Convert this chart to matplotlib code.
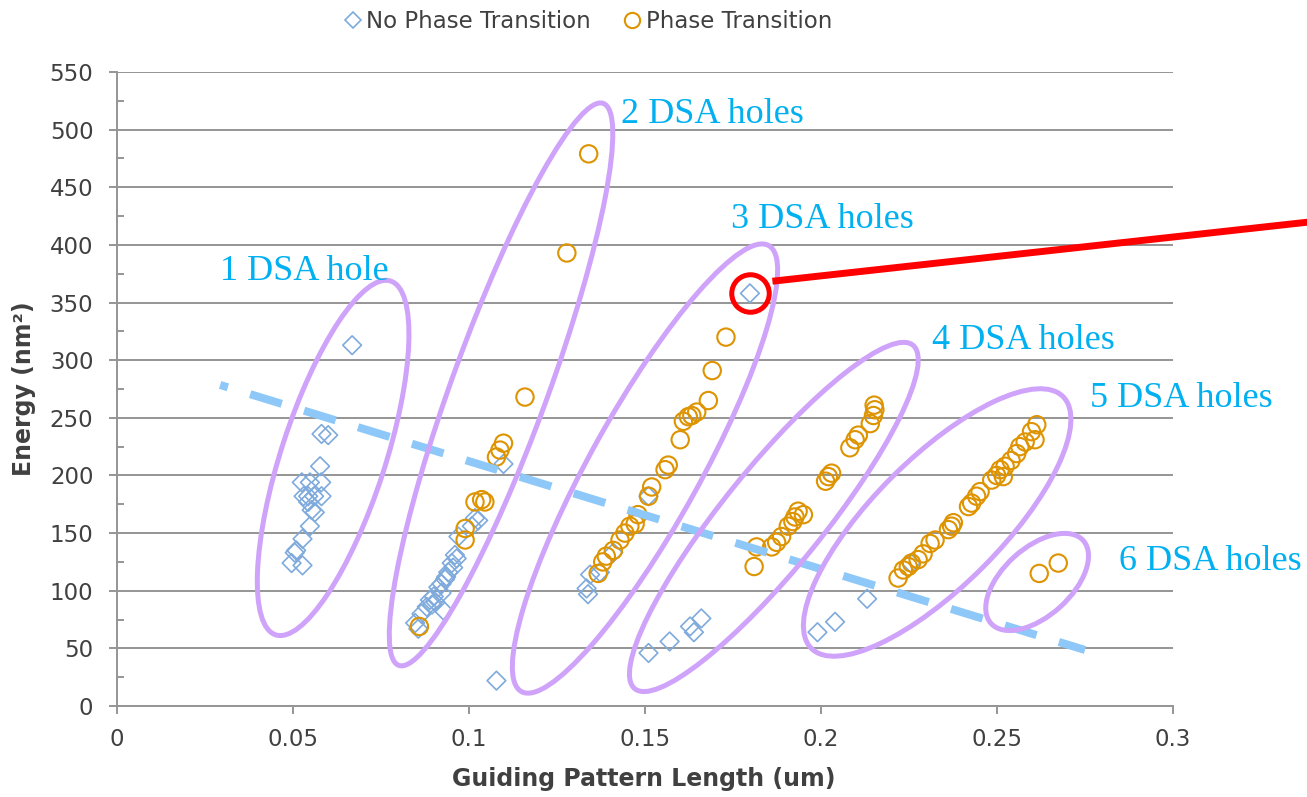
import numpy as np
import matplotlib
matplotlib.use("Agg")
import matplotlib.pyplot as plt
from matplotlib.patches import Ellipse
from matplotlib.transforms import ScaledTranslation, IdentityTransform
from matplotlib.lines import Line2D

# ---------------- data ----------------
# No phase transition (diamonds)
no_pt_x = [0.0668, 0.0581, 0.0600, 0.0577, 0.0525, 0.0548, 0.0580, 0.0530, 0.0543,
           0.0560, 0.0581, 0.0543, 0.0553, 0.0562, 0.0548, 0.0527, 0.0509, 0.0505,
           0.0496, 0.0527,
           0.1078, 0.0847, 0.0856, 0.0865, 0.0880, 0.0889, 0.0927, 0.0913, 0.0922,
           0.0922, 0.0900, 0.0932, 0.0941, 0.0951, 0.0960, 0.0965, 0.0970, 0.1008,
           0.1017, 0.1026, 0.1098, 0.0905, 0.0935, 0.0955, 0.0895,
           0.1334, 0.1338, 0.1344, 0.1372, 0.1410, 0.1510, 0.1798,
           0.1510, 0.1570, 0.1628, 0.1639, 0.1660,
           0.1990, 0.2040, 0.2131, 0.2255]
no_pt_y = [313, 236, 235, 208, 194, 194, 194, 182, 182,
           182, 182, 177, 170, 168, 156, 145, 135, 133,
           124, 122,
           22, 72, 67, 80, 86, 92, 83, 103, 106,
           98, 95, 110, 116, 124, 131, 128, 147, 156,
           163, 161, 210, 90, 112, 120, 88,
           102, 97, 114, 116, 133, 182, 358,
           46, 56, 69, 64, 76,
           64, 73, 93, 124]

# Phase transition (circles)
pt_x = [0.0859, 0.0989, 0.0989, 0.1017, 0.1036, 0.1045, 0.1078, 0.1088, 0.1098,
        0.1159, 0.1278, 0.1340,
        0.1367, 0.1380, 0.1390, 0.1410, 0.1429, 0.1443, 0.1457, 0.1472, 0.1480,
        0.1510, 0.1519, 0.1557, 0.1566, 0.1600, 0.1609, 0.1623, 0.1633, 0.1647,
        0.1680, 0.1691, 0.1730,
        0.1810, 0.1817, 0.1860, 0.1874, 0.1888, 0.1907, 0.1920, 0.1926, 0.1950,
        0.1935, 0.2013, 0.2021, 0.2030, 0.2082, 0.2097, 0.2106, 0.2140, 0.2149,
        0.2153, 0.2151,
        0.2219, 0.2234, 0.2248, 0.2257, 0.2276, 0.2290, 0.2310, 0.2324, 0.2362,
        0.2371, 0.2376, 0.2419, 0.2428, 0.2442, 0.2452, 0.2485, 0.2499, 0.2518,
        0.2509, 0.2523, 0.2540, 0.2556, 0.2565, 0.2580, 0.2608, 0.2598, 0.2613,
        0.2620, 0.2674]
pt_y = [69, 144, 154, 177, 179, 177, 216, 222, 228,
        268, 393, 479,
        115, 125, 130, 135, 144, 150, 156, 158, 166,
        182, 190, 205, 209, 231, 247, 251, 252, 255,
        265, 291, 320,
        121, 138, 138, 142, 147, 156, 160, 164, 166,
        169, 195, 199, 202, 224, 231, 235, 245, 252,
        257, 261,
        111, 118, 121, 124, 127, 132, 141, 144, 153,
        156, 159, 173, 176, 182, 186, 196, 200, 199,
        205, 208, 213, 219, 225, 229, 231, 238, 244,
        115, 124]

series_labels = ["No Phase Transition", "Phase Transition"]

x_ticks = [0, 0.05, 0.1, 0.15, 0.2, 0.25, 0.3]
x_tick_labels = ["0", "0.05", "0.1", "0.15", "0.2", "0.25", "0.3"]
y_ticks = list(range(0, 551, 50))

# dashed separating guide (endpoints in data units)
guide_x = [0.0293, 0.2750]
guide_y = [278.5, 48.6]

# highlighted point and its call-out line
highlight = (0.1798, 358)
callout_x = [0.1862, 0.3450]
callout_y = [368.5, 422.0]

# group outlines: data centre, length/width in pixels, tilt in degrees
groups = [
    ("1 DSA hole",  (0.0614, 215.2), 372, 104, 72, (0.0531, 377)),
    ("2 DSA holes", (0.1091, 279.0), 598, 96, 70, (0.1690, 513)),
    ("3 DSA holes", (0.1500, 206.0), 510, 110, 61, (0.2003, 422)),
    ("4 DSA holes", (0.1866, 164.0), 442, 100, 51, (0.2574, 317)),
    ("5 DSA holes", (0.2330, 159.2), 356, 128, 45, (0.3023, 267)),
    ("6 DSA holes", (0.2614, 107.6), 124, 68, 42, (0.3105, 125)),
]

# ---------------- styling ----------------
BLUE = "#7FAADC"
ORANGE = "#DE9300"
PURPLE = "#CFA3FA"
GUIDE = "#8EC8F8"
LABEL = "#00B0F0"
GRID = "#959595"
TEXT = "#404040"

fig = plt.figure(figsize=(13.07, 7.97), dpi=100)
ax = fig.add_axes([117 / 1307, 91 / 797, 1056 / 1307, 634 / 797])

ax.set_xlim(0, 0.3)
ax.set_ylim(0, 550)

ax.scatter(no_pt_x, no_pt_y, marker="D", s=9.5 ** 2, facecolors="none",
           edgecolors=BLUE, linewidths=1.2, zorder=4)
ax.scatter(pt_x, pt_y, marker="o", s=12.5 ** 2, facecolors="none",
           edgecolors=ORANGE, linewidths=1.5, zorder=4)

# grid and axes
ax.set_xticks(x_ticks)
ax.set_xticklabels(x_tick_labels)
ax.set_yticks(y_ticks)
ax.set_yticks(np.arange(25, 550, 50), minor=True)
ax.yaxis.grid(True, color=GRID, linewidth=1.4, zorder=0)
ax.set_axisbelow(True)
for side in ("top", "right"):
    ax.spines[side].set_visible(False)
for side in ("left", "bottom"):
    ax.spines[side].set_color(GRID)
    ax.spines[side].set_linewidth(1.4)
ax.tick_params(axis="both", which="major", direction="out", length=6,
               width=1.4, color=GRID, labelsize=16.5, labelcolor=TEXT)
ax.tick_params(axis="y", which="major", pad=11)
ax.tick_params(axis="x", which="major", pad=10)
ax.tick_params(axis="y", which="minor", direction="in", length=5, width=1.4,
               color=GRID)

ax.set_xlabel("Guiding Pattern Length (um)", fontsize=17, fontweight="bold",
              color=TEXT)
ax.set_ylabel("Energy (nm²)", fontsize=17, fontweight="bold", color=TEXT)
ax.xaxis.set_label_coords(0.499, -0.115)
ax.xaxis.label.set_va("center")
ax.yaxis.set_label_coords(-0.088, 0.5)
ax.yaxis.label.set_va("center")

# dashed guide
ax.plot(guide_x, guide_y, color=GUIDE, linewidth=5.8,
        linestyle=(3.1, (4.1, 2.9)), dash_capstyle="butt", zorder=5)

# group outlines and labels
for name, (cx, cy), length, width, tilt, (lx, ly) in groups:
    trans = IdentityTransform() + ScaledTranslation(cx, cy, ax.transData)
    ax.add_patch(Ellipse((0, 0), length, width, angle=tilt, transform=trans,
                         fill=False, edgecolor=PURPLE, linewidth=3.6,
                         zorder=6, clip_on=False))
    ax.text(lx, ly, name, fontsize=26, family="Liberation Serif", color=LABEL,
            ha="center", va="center", zorder=7, clip_on=False)

# highlighted point
ax.plot([highlight[0]], [highlight[1]], marker="o", markersize=27,
        markerfacecolor="none", markeredgecolor="#FF0000",
        markeredgewidth=3.6, zorder=8, clip_on=False)
ax.plot(callout_x, callout_y, color="#FF0000", linewidth=5,
        solid_capstyle="butt", zorder=8, clip_on=False)

# legend
handles = [
    Line2D([], [], marker="D", linestyle="none", markersize=8.5,
           markerfacecolor="none", markeredgecolor=BLUE, markeredgewidth=1.2),
    Line2D([], [], marker="o", linestyle="none", markersize=11,
           markerfacecolor="none", markeredgecolor=ORANGE, markeredgewidth=1.5),
]
leg = fig.legend(handles, series_labels, loc="upper center",
                 bbox_to_anchor=(0.449, 1.005), ncol=2, frameon=False,
                 fontsize=16.5, handletextpad=0.1, columnspacing=1.3,
                 handlelength=1.0, borderaxespad=0.2)
for t in leg.get_texts():
    t.set_color(TEXT)

fig.savefig("out.png", dpi=100)
